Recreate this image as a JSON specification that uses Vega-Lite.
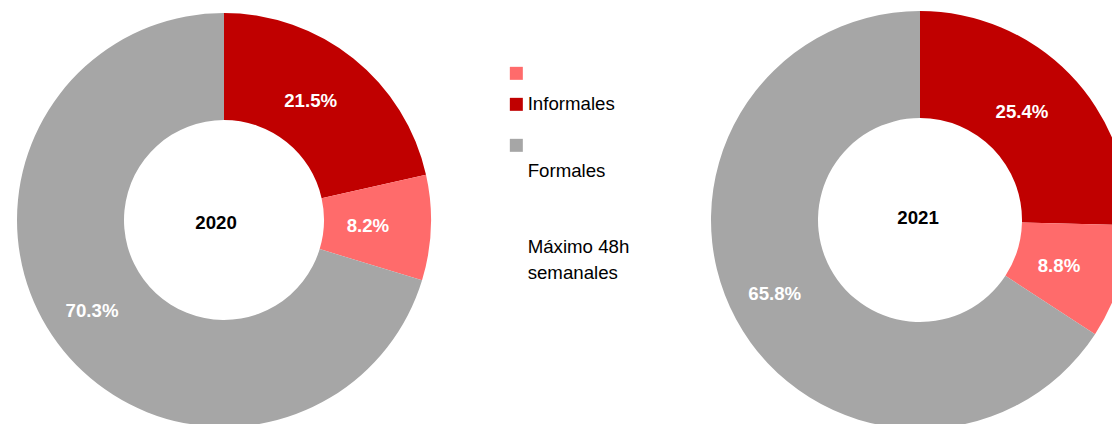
{
  "$schema": "https://vega.github.io/schema/vega-lite/v6.json",
  "padding": 0,
  "background": "white",
  "bounds": "flush",
  "config": {
    "font": "Liberation Sans",
    "view": {"stroke": null}
  },
  "data": {
    "values": [
      {"year": "2020", "grupo": "Informales", "orden": 1, "value": 0.215},
      {"year": "2020", "grupo": "Formales más de 48h", "orden": 2, "value": 0.082},
      {"year": "2020", "grupo": "Formales máximo 48h", "orden": 3, "value": 0.703},
      {"year": "2021", "grupo": "Informales", "orden": 1, "value": 0.254},
      {"year": "2021", "grupo": "Formales más de 48h", "orden": 2, "value": 0.088},
      {"year": "2021", "grupo": "Formales máximo 48h", "orden": 3, "value": 0.658}
    ]
  },
  "spacing": 262,
  "hconcat": [
    {
      "width": 448,
      "height": 440,
      "transform": [{"filter": "datum.year == '2020'"}],
      "layer": [
        {
          "mark": {"type": "arc", "innerRadius": 100, "outerRadius": 207},
          "encoding": {
            "theta": {"field": "value", "type": "quantitative", "stack": true},
            "order": {"field": "orden", "type": "quantitative"},
            "color": {
              "field": "grupo",
              "type": "nominal",
              "scale": {"domain": ["Formales más de 48h", "Informales", "Formales máximo 48h"], "range": ["#FF6B6B", "#C00000", "#A6A6A6"]},
              "legend": {
                "orient": "none",
                "legendX": 507,
                "legendY": 64,
                "title": null,
                "values": ["Formales más de 48h", "Informales"],
                "symbolType": "square",
                "symbolSize": 169,
                "symbolStrokeWidth": 0,
                "symbolOpacity": 1,
                "labelFontSize": 18.67,
                "labelColor": "black",
                "labelOffset": 2,
                "labelLimit": 300,
                "rowPadding": 11,
                "labelExpr": "datum.value == 'Informales' ? 'Informales' : '\u200b'"
              }
            }
          }
        },
        {
          "mark": {"type": "text", "radius": 153, "dx": -9, "fontSize": 18.67, "fontWeight": "bold", "color": "white"},
          "encoding": {
            "theta": {"field": "value", "type": "quantitative", "stack": true},
            "order": {"field": "orden", "type": "quantitative"},
            "text": {"field": "value", "type": "quantitative", "format": ".1%"}
          }
        },
        {
          "transform": [{"filter": "datum.orden == 1"}],
          "mark": {"type": "text", "dx": -8, "dy": 3, "fontSize": 18.67, "fontWeight": "bold", "color": "black"},
          "encoding": {"text": {"field": "year", "type": "nominal"}}
        }
      ]
    },
    {
      "width": 420,
      "height": 440,
      "transform": [{"filter": "datum.year == '2021'"}],
      "layer": [
        {
          "mark": {"type": "arc", "innerRadius": 102, "outerRadius": 209},
          "encoding": {
            "theta": {"field": "value", "type": "quantitative", "stack": true},
            "order": {"field": "orden", "type": "quantitative"},
            "fill": {
              "field": "grupo",
              "type": "nominal",
              "scale": {"domain": ["Formales más de 48h", "Informales", "Formales máximo 48h"], "range": ["#FF6B6B", "#C00000", "#A6A6A6"]},
              "legend": {
                "orient": "none",
                "legendX": -203,
                "legendY": 136,
                "title": null,
                "values": ["Formales máximo 48h"],
                "symbolType": "square",
                "symbolSize": 169,
                "symbolStrokeWidth": 0,
                "symbolOpacity": 1,
                "labelFontSize": 18.67,
                "labelColor": "black",
                "labelOffset": 2,
                "labelLimit": 300,
                "labelExpr": "['\u200b', 'Formales', '\u200b', '\u200b', 'Máximo 48h', 'semanales']",
                "encode": {"labels": {"update": {"lineHeight": {"value": 25.5}}}}
              }
            }
          }
        },
        {
          "mark": {"type": "text", "radius": 155, "dx": -9, "fontSize": 18.67, "fontWeight": "bold", "color": "white"},
          "encoding": {
            "theta": {"field": "value", "type": "quantitative", "stack": true},
            "order": {"field": "orden", "type": "quantitative"},
            "text": {"field": "value", "type": "quantitative", "format": ".1%"}
          }
        },
        {
          "transform": [{"filter": "datum.orden == 1"}],
          "mark": {"type": "text", "dx": -2, "dy": -2, "fontSize": 18.67, "fontWeight": "bold", "color": "black"},
          "encoding": {"text": {"field": "year", "type": "nominal"}}
        }
      ]
    }
  ],
  "resolve": {"scale": {"theta": "independent"}, "legend": {"color": "independent", "fill": "independent"}}
}
